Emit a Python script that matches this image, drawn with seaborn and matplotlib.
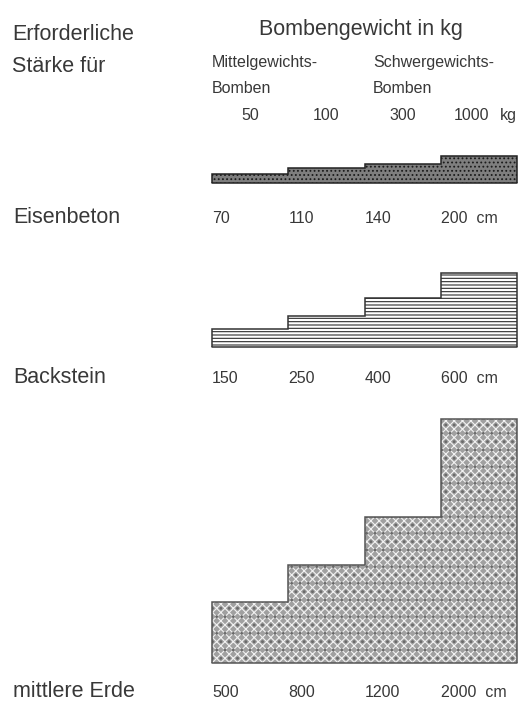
import numpy as np
import matplotlib
matplotlib.use('Agg')
import matplotlib.pyplot as plt
import matplotlib.transforms as mtransforms
import seaborn as sns

# data
bomb_weights = ['50', '100', '300', '1000']
eisenbeton_cm = [70, 110, 140, 200]
backstein_cm = [150, 250, 400, 600]
erde_cm = [500, 800, 1200, 2000]
materials = ['Eisenbeton', 'Backstein', 'mittlere Erde']

W, H = 519, 702
sns.set_theme(style='white')
plt.rcParams['font.family'] = ['Liberation Sans', 'DejaVu Sans']
plt.rcParams['hatch.linewidth'] = 0.8

TXT = '#383838'
BIG = 15.5
SMALL = 11.5

fig = plt.figure(figsize=(W / 100, H / 100), dpi=100)
fig.patch.set_facecolor('white')


def fy(y):
    # pixel row -> figure fraction
    return 1 - y / H


# headings
fig.text(12 / W, fy(40), 'Erforderliche', fontsize=BIG, color=TXT, va='baseline')
fig.text(12 / W, fy(72), 'Stärke für', fontsize=BIG, color=TXT, va='baseline')
fig.text(361 / W, fy(35), 'Bombengewicht in kg', fontsize=BIG, color=TXT,
         va='baseline', ha='center')
fig.text(212 / W, fy(67), 'Mittelgewichts-', fontsize=SMALL, color=TXT, va='baseline')
fig.text(212 / W, fy(93), 'Bomben', fontsize=SMALL, color=TXT, va='baseline')
fig.text(373 / W, fy(67), 'Schwergewichts-', fontsize=SMALL, color=TXT, va='baseline')
fig.text(373 / W, fy(93), 'Bomben', fontsize=SMALL, color=TXT, va='baseline')

# values, bar bottom px, axes height px, px per cm, bar style, outline, label baseline
panels = [
    (eisenbeton_cm, 183, 40, 0.133,
     dict(color='#7e7e7e', edgecolor='#1a1a1a', hatch='....'), '#222222', 223),
    (backstein_cm, 347, 90, 0.123,
     dict(color='white', edgecolor='#2e2e2e', hatch='-----'), '#333333', 383),
    (erde_cm, 663, 260, 0.122,
     dict(color='#a0a0a0', edgecolor='#f2f2f2', hatch='xxxx'), '#555555', 697),
]

axes = []
for (vals, bottom, h, scale, style, outline, lab_y), name in zip(panels, materials):
    ax = fig.add_axes([212 / W, fy(bottom), 305 / W, h / H])
    sns.barplot(x=bomb_weights, y=vals, ax=ax, width=1, saturation=1,
                linewidth=0, **style)
    if name == 'mittlere Erde':
        # dark speckle on top of the woven texture
        sns.barplot(x=bomb_weights, y=vals, ax=ax, width=1, saturation=1,
                    linewidth=0, color='none', edgecolor='#6a6a6a', hatch='..')
    edges = np.arange(len(vals) + 1) - 0.5
    ax.stairs(vals, edges, baseline=0, fill=False, color=outline, lw=1.1,
              clip_on=False)
    ax.axhline(0, color=outline, lw=1.1, clip_on=False)
    ax.set_xlim(-0.5, len(vals) - 0.5)
    ax.set_ylim(0, h / scale)
    ax.axis('off')

    tr = mtransforms.blended_transform_factory(ax.transData, fig.transFigure)
    for i, v in enumerate(vals):
        s = f'{v}  cm' if i == len(vals) - 1 else f'{v}'
        ax.text(i - 0.5, fy(lab_y), s, transform=tr, fontsize=SMALL,
                color=TXT, va='baseline', ha='left')
    fig.text(13 / W, fy(lab_y), name, fontsize=BIG, color=TXT, va='baseline')
    axes.append(ax)

# bomb weight labels above the first panel
tr = mtransforms.blended_transform_factory(axes[0].transData, fig.transFigure)
for i, wt in enumerate(bomb_weights):
    xpos = i - 0.1 if i == len(bomb_weights) - 1 else i
    axes[0].text(xpos, fy(120), wt, transform=tr, fontsize=SMALL, color=TXT,
                 va='baseline', ha='center')
axes[0].text(len(bomb_weights) - 0.5, fy(120), 'kg', transform=tr,
             fontsize=SMALL, color=TXT, va='baseline', ha='right')

fig.savefig('out.png', dpi=100, facecolor='white')
